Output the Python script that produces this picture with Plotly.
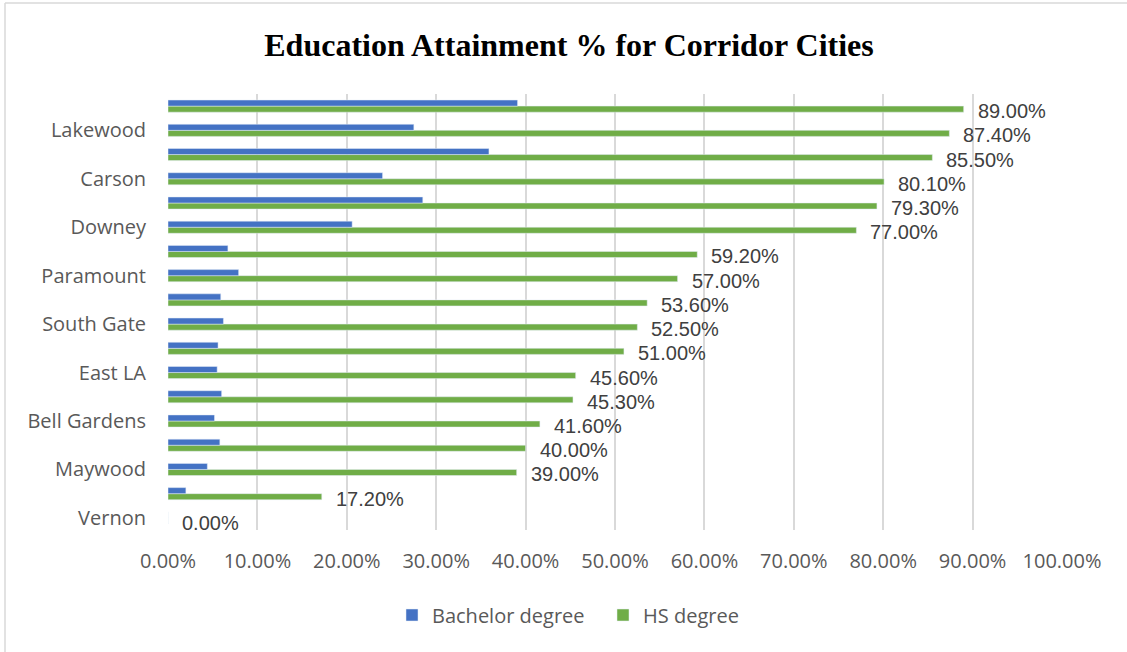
import plotly.graph_objects as go

# Data (bottom to top); empty names are categories whose labels are not shown in the reference
cities = ["Vernon", "", "Maywood", "", "Bell Gardens", "", "East LA", "", "South Gate", "",
          "Paramount", "", "Downey", "", "Carson", "", "Lakewood", ""]
hs_degree = [0.0, 17.2, 39.0, 40.0, 41.6, 45.3, 45.6, 51.0, 52.5, 53.6,
             57.0, 59.2, 77.0, 79.3, 80.1, 85.5, 87.4, 89.0]
bachelor_degree = [0.0, 2.0, 4.4, 5.8, 5.2, 6.0, 5.5, 5.6, 6.2, 5.9,
                   7.9, 6.7, 20.6, 28.5, 24.0, 35.9, 27.5, 39.1]
x_ticks = [0, 10, 20, 30, 40, 50, 60, 70, 80, 90, 100]

pos = list(range(len(cities)))
BLUE = "#4472C4"
GREEN = "#70AD47"
FONT = "Open Sans"

fig = go.Figure()
fig.add_trace(go.Bar(y=pos, x=hs_degree, orientation="h", name="HS degree",
                     marker=dict(color=GREEN), legendrank=2))
fig.add_trace(go.Bar(y=pos, x=bachelor_degree, orientation="h", name="Bachelor degree",
                     marker=dict(color=BLUE), legendrank=1))

annotations = []
for p, v in zip(pos, hs_degree):
    annotations.append(dict(x=v, y=p - 0.125, xref="x", yref="y", text=f"{v:.2f}%",
                            showarrow=False, xanchor="left", yanchor="middle",
                            xshift=13, yshift=-2, borderpad=0,
                            font=dict(family="Liberation Sans", size=20, color="#404040")))

W, H = 1127, 652
ml, mr, mt, mb = 168, 65, 94, 122
pw, ph = W - ml - mr, H - mt - mb
bx = (5 - ml) / pw
by = (ph + mt - 3) / ph

shapes = [
    dict(type="line", xref="paper", yref="paper", x0=bx, x1=bx, y0=-0.5, y1=by,
         line=dict(color="#d9d9d9", width=1.5)),
    dict(type="line", xref="paper", yref="paper", x0=bx, x1=1.5, y0=by, y1=by,
         line=dict(color="#d9d9d9", width=1.5)),
]

fig.update_layout(
    width=W, height=H,
    margin=dict(l=ml, r=mr, t=mt, b=mb),
    paper_bgcolor="white", plot_bgcolor="white",
    barmode="group", bargap=0.5, bargroupgap=0,
    title=dict(text="<b>Education Attainment % for Corridor Cities</b>",
               x=569 / W, xanchor="center", y=1 - 45 / H, yanchor="middle",
               font=dict(family="Liberation Serif", size=32, color="black")),
    xaxis=dict(range=[0, 100], tickvals=x_ticks,
               ticktext=[f"{t:.2f}%" for t in x_ticks],
               showgrid=True, gridcolor="#d9d9d9", gridwidth=1.5,
               zeroline=False, showline=False, ticks="", ticklabelstandoff=17,
               tickfont=dict(family=FONT, size=20, color="#595959")),
    yaxis=dict(range=[-0.5, len(cities) - 0.5],
               tickvals=[p for p, c in zip(pos, cities) if c],
               ticktext=[c for c in cities if c],
               showgrid=False, zeroline=False, showline=False, ticks="",
               ticklabelstandoff=21,
               tickfont=dict(family=FONT, size=20, color="#595959")),
    legend=dict(orientation="h", x=(603 - ml) / pw, xanchor="center",
                y=(ph + mt - 615) / ph, yanchor="middle",
                font=dict(family=FONT, size=20, color="#595959"),
                itemwidth=30, traceorder="normal",
                entrywidth=166, entrywidthmode="pixels"),
    annotations=annotations,
    shapes=shapes,
    showlegend=True,
)

fig.write_html("out.html")
